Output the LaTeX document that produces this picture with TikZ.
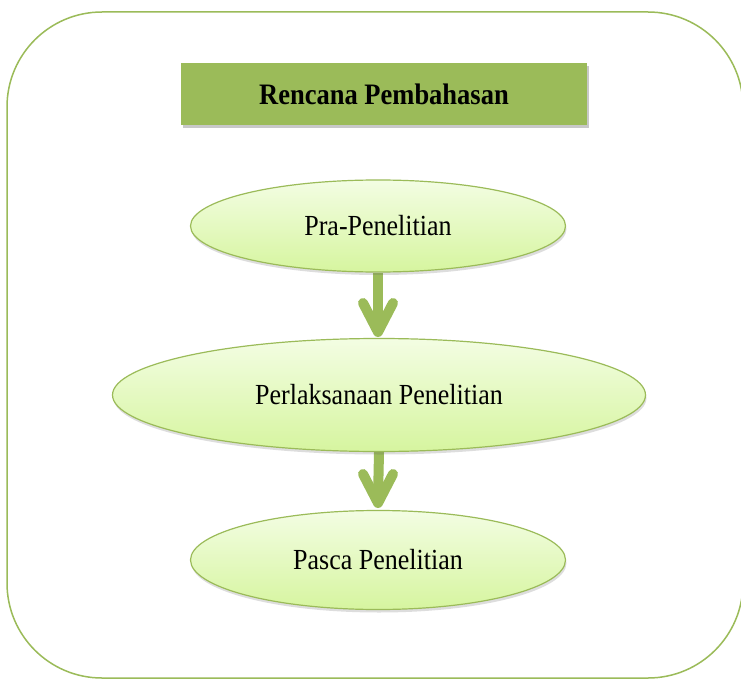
\documentclass[tikz,border=0pt]{standalone}
\usepackage{fontspec}
\setmainfont{Liberation Serif}
\usetikzlibrary{shapes.geometric,shadows,backgrounds}
\definecolor{olive}{HTML}{9BBB59}
\definecolor{leaftop}{HTML}{F3FDE3}
\definecolor{leafbot}{HTML}{D6F59F}
\newcommand{\tall}[1]{\scalebox{1}[1.12]{#1}}
\tikzset{
  frame/.style={draw=olive, line width=1.5pt, rounded corners=95pt},
  titlebox/.style={rectangle, fill=olive, minimum width=406pt, minimum height=62pt,
    inner sep=0pt, font=\fontsize{26.5}{30}\selectfont\bfseries,
    drop shadow={shadow xshift=1.5pt, shadow yshift=-3pt, opacity=0.3, fill=black!70}},
  stage/.style={ellipse, draw=olive, line width=1.2pt, top color=leaftop, bottom color=leafbot,
    inner sep=0pt, font=\fontsize{26}{30}\selectfont,
    drop shadow={shadow xshift=1pt, shadow yshift=-3pt, opacity=0.22, fill=black!60}},
  flow/.style={draw=olive, line width=10pt},
  chevron/.style={draw=olive, line width=10pt, line cap=round, line join=round}
}
\begin{document}
\begin{tikzpicture}[x=1pt,y=-1pt]
\useasboundingbox (0,0) rectangle (741,679);

\node[titlebox] (title) at (384,94) {\tall{Rencana Pembahasan}};

\node[stage, minimum width=375pt, minimum height=92pt] (pra) at (378,226) {\tall{Pra-Penelitian}};
\node[stage, minimum width=533pt, minimum height=113pt] (lak) at (379,395) {\tall{Perlaksanaan Penelitian}};
\node[stage, minimum width=375pt, minimum height=99pt] (pasca) at (378,560) {\tall{Pasca Penelitian}};

\coordinate (h1) at (378,332);
\coordinate (h2) at (378,503);

\begin{scope}[on background layer]
  \fill[white] (0,0) rectangle (741,679);
  \begin{scope}
    \clip (0,0) rectangle (741,679);
    \draw[frame] (7,12) rectangle (743,678);
  \end{scope}
  % connectors: thick shaft with a chevron head
  \draw[flow] (pra.south) -- ([yshift=4pt]h1);
  \draw[chevron] ([xshift=-15pt,yshift=29pt]h1) -- (h1) -- ([xshift=15pt,yshift=29pt]h1);
  \draw[flow] (lak.south) -- ([yshift=4pt]h2);
  \draw[chevron] ([xshift=-15pt,yshift=29pt]h2) -- (h2) -- ([xshift=15pt,yshift=29pt]h2);
\end{scope}
\end{tikzpicture}
\end{document}
